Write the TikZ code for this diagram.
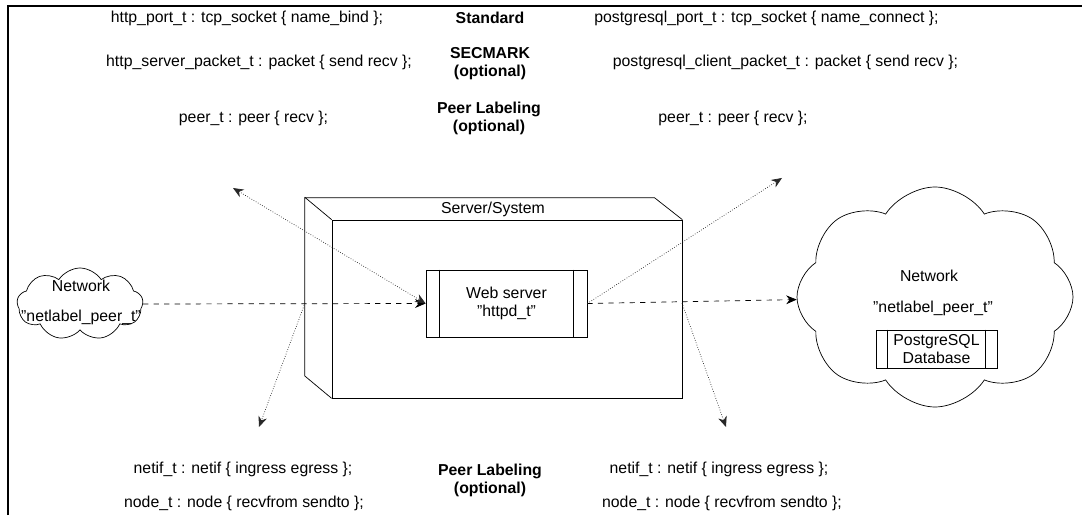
\documentclass[tikz,border=0pt]{standalone}
\usepackage{fontspec}
\setmainfont{Liberation Sans}
\usetikzlibrary{shapes.symbols, arrows.meta, positioning}
\definecolor{sepolink}{RGB}{40,40,40}

\begin{document}
\begin{tikzpicture}[
    rulelabel/.style={
        font=\fontsize{9}{10}\selectfont,
        inner sep=1pt
    },
    headlabel/.style={
        font=\fontsize{9}{10}\selectfont\bfseries,
        align=center,
        inner sep=1pt
    },
    netcloud/.style={
        cloud,
        draw,
        thin,
        cloud puffs=9,
        cloud puff arc=115,
        aspect=1.6
    },
    procbox/.style={
        rectangle,
        draw,
        thin,
        fill=white,
        align=center,
        font=\fontsize{9}{10}\selectfont
    },
    dashlink/.style={
        dashed,
        thin,
        -{Stealth[length=6pt,width=5pt]}
    },
    dotlink/.style={
        densely dotted,
        thin,
        color=sepolink,
        -{Stealth[length=6pt,width=5pt]}
    }
]

% Frame
\useasboundingbox (0,0) rectangle (21.64,10.3);
\draw[line width=1.6pt] (0.16,0) -- (0.16,10.18) -- (21.64,10.18);

% Port rules
\node[rulelabel] (httpport) at (4.94,9.94) {http\_port\_t : tcp\_socket \{ name\_bind \};};
\node[headlabel] (standard) at (9.8,9.94) {Standard};
\node[rulelabel] (pgport) at (15.33,9.94) {postgresql\_port\_t : tcp\_socket \{ name\_connect \};};

% SECMARK rules
\node[rulelabel] (httppkt) at (5.18,9.06) {http\_server\_packet\_t : packet \{ send recv \};};
\node[headlabel] (secmark) at (9.8,9.03) {SECMARK\\(optional)};
\node[rulelabel] (pgpkt) at (15.71,9.06) {postgresql\_client\_packet\_t : packet \{ send recv \};};

% Peer rules
\node[rulelabel] (lpeer) at (5.07,7.94) {peer\_t : peer \{ recv \};};
\node[headlabel] (peertop) at (9.78,7.93) {Peer Labeling\\(optional)};
\node[rulelabel] (rpeer) at (14.66,7.94) {peer\_t : peer \{ recv \};};

% Server/System (3D box)
\node[rectangle, draw, thin, minimum width=7cm, minimum height=3.56cm] (server) at (10.14,4.12) {};
\draw[thin] (server.south west) -- ++(-0.54,0.45) -- ++(0,3.56) -- ++(7,0) -- (server.north east);
\draw[thin] (server.north west) -- ++(-0.54,0.45);
\node[rulelabel, anchor=south] (servername) at (9.86,5.92) {Server/System};
\coordinate (lface) at (6.1,4.24);
\coordinate (rface) at (13.64,4.24);

% Web server
\node[procbox, minimum width=3.22cm, minimum height=1.34cm] (web) at (10.13,4.23) {Web server\\"httpd\_t"};
\draw[thin] ([xshift=0.28cm]web.north west) -- ([xshift=0.28cm]web.south west);
\draw[thin] ([xshift=-0.28cm]web.north east) -- ([xshift=-0.28cm]web.south east);

% Left network
\node[netcloud, minimum width=2.52cm, minimum height=1.44cm] (lnet) at (1.6,4.22) {};
\node[rulelabel, align=center] (lnettext) at (1.62,4.26) {Network\\[7pt]"netlabel\_peer\_t"};

% Right network
\node[netcloud, cloud puffs=8, aspect=1.3, minimum width=5.52cm, minimum height=4.4cm] (rnet) at (18.7,4.36) {};
\node[rulelabel] (rnetname) at (18.58,4.78) {Network};
\node[rulelabel] (rnetlabel) at (18.66,4.14) {"netlabel\_peer\_t"};
\node[procbox, minimum width=2.42cm, minimum height=0.76cm, inner sep=1pt] (pgdb) at (18.73,3.32) {PostgreSQL\\Database};
\draw[thin] ([xshift=0.24cm]pgdb.north west) -- ([xshift=0.24cm]pgdb.south west);
\draw[thin] ([xshift=-0.24cm]pgdb.north east) -- ([xshift=-0.24cm]pgdb.south east);

% Free ends of the dotted links
\coordinate (tl) at (4.66,6.54);
\coordinate (tr) at (15.64,6.74);
\coordinate (bl) at (5.18,1.76);
\coordinate (br) at (14.52,1.76);

% Links
\draw[dashlink] (lnet.east) -- (web.west);
\draw[dashlink] (web.east) -- (rnet);
\draw[dotlink, {Stealth[length=6pt,width=5pt]}-{Stealth[length=6pt,width=5pt]}] (tl) -- (web.west);
\draw[dotlink] (web.east) -- (tr);
\draw[dotlink] (lface) -- (bl);
\draw[dotlink] (rface) -- (br);

% Interface and node rules
\node[rulelabel] (lnetif) at (4.86,0.92) {netif\_t : netif \{ ingress egress \};};
\node[rulelabel] (lnode) at (4.88,0.24) {node\_t : node \{ recvfrom sendto \};};
\node[headlabel] (peerbot) at (9.8,0.69) {Peer Labeling\\(optional)};
\node[rulelabel] (rnetif) at (14.38,0.92) {netif\_t : netif \{ ingress egress \};};
\node[rulelabel] (rnode) at (14.44,0.24) {node\_t : node \{ recvfrom sendto \};};

\end{tikzpicture}
\end{document}
